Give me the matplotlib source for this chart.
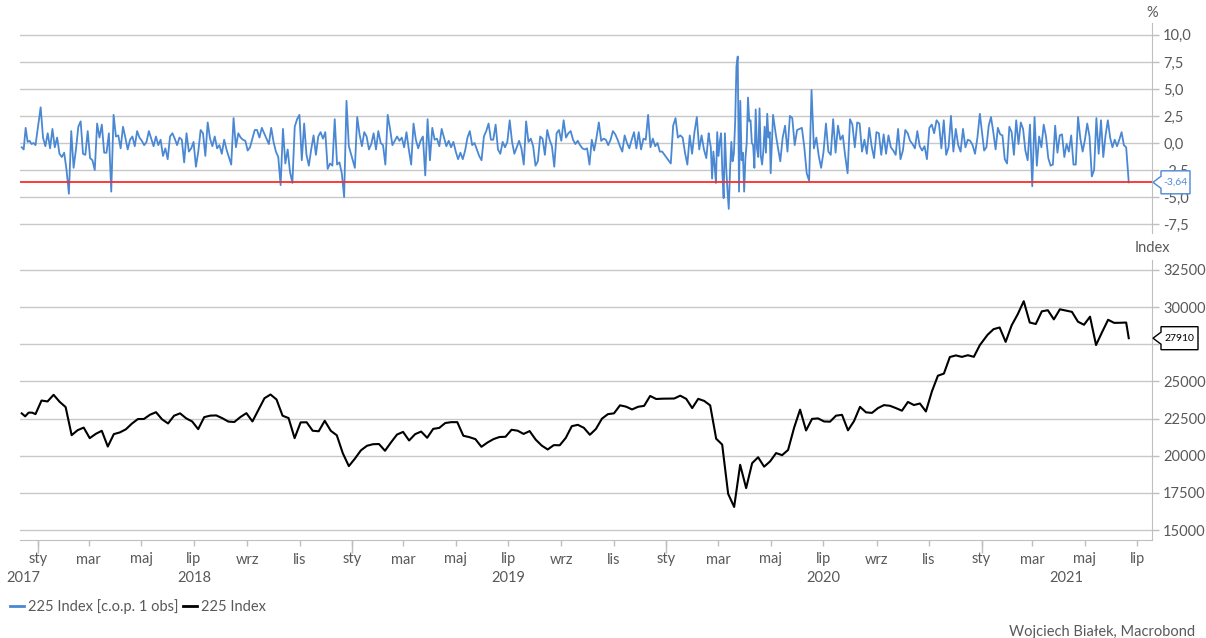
import numpy as np
import pandas as pd
import matplotlib
matplotlib.use('Agg')
import matplotlib.pyplot as plt
import matplotlib.dates as mdates
import matplotlib.ticker as ticker
from matplotlib.patches import Polygon

# ---- dane: zmiana dzienna % (c.o.p. 1 obs), mniej wiecej co druga sesja ----
ret_2017 = [-0.4, -0.6, 1.4, 0.1, 0.2, -0.1, 0.0, -0.2]

ret_2018 = [
    3.3, 0.5, -0.3, 0.9, -0.5, 1.3, -0.4, 0.5, -1.0, -1.3, -0.9,
    -2.5, -4.7, 1.1, -2.3, -0.6, 1.5, 2.0, -1.0, -1.1, 1.1, -1.4,
    -1.6, -2.5, 1.8, 0.5, 1.7, -0.9, -0.9, 0.9, -4.5, 2.6, 0.6,
    0.7, -0.5, 1.5, 0.5, -0.6, 0.3, 0.6, -0.3, 1.1, 0.5, 0.2,
    -0.2, 0.1, 1.1, 0.4, -0.3, 0.6, -0.2, 0.3, -1.2, -0.5, -1.5,
    0.6, 0.9, 0.4, -0.2, 0.5, 0.3, -1.8, 0.9, -0.8, -0.5, 0.1,
    -2.2, -0.8, 1.2, 0.9, -1.2, 1.9, 0.4, -0.3, 0.6, -0.5, -0.2,
    -1.0, 0.3, -0.6, -1.3, -2.0, 2.3, -0.4, 0.9, 0.5, 0.3, 0.2,
    -0.7, -0.4, 0.4, 1.2, 1.2, 0.5, 1.4, 0.9, 0.4, -0.1, 1.4,
    0.1, -0.8, -1.3, -3.9, 1.3, -1.9, -0.6, -2.7, -3.7, 1.5, 2.2,
    2.6, -1.6, 1.8, -1.1, -2.1, -0.6, 0.7, -1.1, 0.6, 1.0, 0.4,
    1.0, -2.4, -1.9, -2.1, 2.2, -2.0, -1.8, -2.8, -5.0, 3.9, -0.3,
]

ret_2019 = [
    -2.3, 2.4, 0.8, -0.3, 1.0, 0.6, -0.6, -0.1, 0.9, -0.6, 1.1,
    0.0, -0.2, -2.0, 2.6, 1.3, -0.2, 0.2, 0.6, 0.2, 0.5, -0.4,
    1.0, -0.6, -2.0, 1.8, 0.3, -0.5, 0.2, 0.6, -3.0, 2.2, -1.6,
    1.4, 0.3, 0.4, -0.3, 1.3, 0.5, -0.3, 0.2, -0.4, 0.1, -0.8,
    -1.5, -0.9, -1.5, -0.7, 0.5, 1.1, -0.2, 0.0, -0.6, -1.2, -1.6,
    0.6, 1.1, 1.8, 0.3, 0.3, 1.7, -0.6, -1.0, 0.1, -0.4, 0.1,
    2.1, 0.1, -1.0, -0.4, 0.2, -0.5, -2.0, 2.0, 0.1, 0.4, -0.3,
    -2.1, -1.7, 0.6, 0.4, -1.1, 1.2, 0.3, -0.3, -2.2, 0.9, 1.2,
    0.2, 2.1, 0.5, 0.9, 1.1, 0.3, -0.1, 0.2, -0.2, -0.5, -0.6,
    -0.5, -2.0, 0.3, -0.7, 0.5, 1.9, 0.2, 0.4, 0.3, -0.2, 0.3,
    1.1, 0.8, 0.3, -0.3, -0.8, 0.7, 0.0, -0.5, 0.3, 1.0, -0.5,
    1.0, -0.6, 0.4, 0.3, 2.6, -0.4, 0.4, -0.3, 0.0, -0.8, -0.8,
]

ret_2020_a = [-1.9, 1.6, 2.3, 0.5, 0.7, 0.5, -0.9, -2.0, 0.7, -1.0,
              1.0, 2.4, -0.6, 0.7, -0.6, -1.4, 0.9]

# luty-kwiecien 2020 - kazda sesja
ret_2020_covid = [0.3, -0.4, -3.3, -0.8, -2.1, -3.7, 1.0, -1.2, 0.1, 0.9,
                  -2.7, -5.1, 0.9, -2.3, -4.4, -6.1, -2.5, 0.1, -1.7, -1.0,
                  2.0, 7.1, 8.0, -4.5, 3.9, -1.6, -0.9, -4.5, -1.4, 0.0,
                  4.2, 2.0, 2.1, 0.0, -0.2, -2.3, 3.1, -0.5, -1.3, 3.2,
                  -1.2, -2.0, -0.7, 1.5, -0.9, 2.7, 0.5, 1.0]

ret_2020_b = [
    -2.8, 2.6, 1.0, -0.4, -1.7, 0.5, 1.6, -0.8, 2.5, 2.3, -0.2,
    1.2, 1.3, 1.4, -0.4, -2.8, -3.5, 4.9, -0.5, 0.5, -1.2, -2.3,
    -0.8, 1.8, -0.8, -1.1, 2.2, -0.9, 1.6, 0.3, 0.7, -1.2, -2.8,
    2.2, 1.7, -0.4, 1.9, 1.8, -0.8, 0.3, -1.0, 1.4, -0.3, -1.4,
    1.0, 0.9, -1.1, 0.8, -1.0, 0.7, -0.4, -0.7, -1.1, 1.3, -1.5,
    -0.7, 1.2, 0.9, 0.2, -0.1, -0.5, 1.1, -0.3, -0.7, -0.3, -1.5,
    1.4, 1.7, 0.9, 2.1, 1.8, -0.5, 2.1, -1.1, -0.4, 2.5, -0.8,
    1.3, -0.2, -0.8, 1.3, -0.4, 0.3, 0.2, -0.2, -1.0, 0.5, 2.7,
]

ret_2021 = [
    -0.7, -0.4, 1.6, 2.4, 1.0, -0.6, 1.4, 0.8, 0.7, -1.5, -1.9,
    1.5, 1.0, -1.1, 2.1, -0.1, 1.9, 1.3, -0.7, -1.6, 1.7, -4.0,
    2.4, -2.1, 0.6, -0.4, 1.7, 0.6, -1.4, -2.1, -2.0, 1.6, -0.9,
    0.7, 0.8, -1.3, -0.1, -0.8, 0.7, -2.0, -2.0, 2.4, 0.4, -0.8,
    0.3, 1.8, 0.6, -3.1, -2.5, 2.3, -1.0, 2.1, -1.3, 0.7, 2.1,
    0.5, -0.4, 0.3, -0.3, 0.3, 1.0, -0.2, -0.4,
]

# ---- dane: 225 Index, mniej wiecej tygodniowo ----
idx_2017 = [22850, 22650, 22900, 22900, 22800]
idx_2018 = [23714, 23653, 24100, 23631,
            23274, 21383, 21720, 21892,
            21182, 21469, 21676, 20617, 21454,
            21568, 21778, 22162, 22468,
            22473, 22758, 22930, 22450,
            22171, 22694, 22851, 22516, 22305,
            21788, 22597, 22698, 22712,
            22525, 22298, 22270, 22601, 22865,
            22307, 23094, 23869, 24120,
            23784, 22694, 22532, 21184,
            22243, 22250, 21680, 21646, 22351,
            21679, 21375, 20166, 19300]
idx_2019 = [19800, 20360, 20666, 20774,
            20788, 20333, 20900, 21426,
            21602, 21025, 21451, 21627, 21206,
            21807, 21871, 22200, 22259,
            22258, 21345, 21250, 21117, 20601,
            20885, 21117, 21259, 21276,
            21746, 21686, 21467, 21658,
            21087, 20685, 20419, 20711, 20704,
            21200, 21988, 22079, 21879,
            21410, 21799, 22493, 22800,
            22851, 23392, 23303, 23113, 23294,
            23354, 24023, 23817, 23838]
idx_2020 = [23850, 24041, 23827, 23205,
            23828, 23688, 23387, 21143,
            20750, 17431, 16553, 19389,
            17820, 19499, 19897, 19262,
            19619, 20179, 20037, 20388, 21878,
            23100, 21700, 22479, 22512,
            22306, 22291, 22696, 22751, 21710,
            22329, 23289, 22920, 22882,
            23205, 23406, 23360, 23204,
            23029, 23619, 23410, 23516, 22977,
            24325, 25385, 25527, 26644,
            26751, 26652, 26763, 26656, 27444]
idx_2021 = [28139, 28519, 28631, 27663,
            28779, 29520, 30400, 28966,
            28864, 29718, 29792, 29176,
            29854, 29768, 29683, 29020, 28813,
            29358, 27450, 28317, 29149,
            28942, 28948, 28964]

last_date = '2021-06-21'
last_pct = -3.64
last_idx = 27910

pct_ticks = [-7.5, -5.0, -2.5, 0.0, 2.5, 5.0, 7.5, 10.0]
idx_ticks = [15000, 17500, 20000, 22500, 25000, 27500, 30000, 32500]
month_names = {1: 'sty', 3: 'mar', 5: 'maj', 7: 'lip', 9: 'wrz', 11: 'lis'}
years = ['2017', '2018', '2019', '2020', '2021']
year_pos = ['2017-12-15', '2018-07-01', '2019-07-01', '2020-07-01', '2021-04-10']
legend_labels = ['225 Index [c.o.p. 1 obs]', '225 Index']


def spread(start, end, vals):
    return list(pd.date_range(start, end, periods=len(vals)))


pct_dates = (spread('2017-12-13', '2017-12-29', ret_2017)
             + spread('2018-01-04', '2018-12-28', ret_2018)
             + spread('2019-01-04', '2019-12-27', ret_2019)
             + spread('2020-01-06', '2020-02-19', ret_2020_a)
             + spread('2020-02-20', '2020-04-30', ret_2020_covid)
             + spread('2020-05-01', '2020-12-30', ret_2020_b)
             + spread('2021-01-04', '2021-06-18', ret_2021)
             + [pd.Timestamp(last_date)])
pct_vals = (ret_2017 + ret_2018 + ret_2019 + ret_2020_a + ret_2020_covid
            + ret_2020_b + ret_2021 + [last_pct])

idx_dates = (spread('2017-12-13', '2017-12-29', idx_2017)
             + spread('2018-01-05', '2018-12-28', idx_2018)
             + spread('2019-01-04', '2019-12-27', idx_2019)
             + spread('2020-01-10', '2020-12-30', idx_2020)
             + spread('2021-01-08', '2021-06-18', idx_2021)
             + [pd.Timestamp(last_date)])
idx_vals = idx_2017 + idx_2018 + idx_2019 + idx_2020 + idx_2021 + [last_idx]

# ---- wykres ----
plt.rcParams['font.family'] = ['Lato', 'DejaVu Sans']
W, H = 1206, 638
BLUE = '#4a88d4'
GRAY = '#595959'
GRID = '#c8c8c8'
SPINE = '#bfbfbf'
FS = 10.5

fig = plt.figure(figsize=(W / 100, H / 100), dpi=100)
ax1 = fig.add_axes([20 / W, 1 - 233 / H, 1132 / W, 210 / H])
ax2 = fig.add_axes([20 / W, 1 - 540 / H, 1132 / W, 280 / H])

xmin, xmax = pd.Timestamp('2017-12-11'), pd.Timestamp('2021-07-18')

# gorny panel
l1, = ax1.plot(pct_dates, pct_vals, color=BLUE, lw=1.3, zorder=3)
ax1.axhline(last_pct, color='#ff2a2a', lw=1.3, zorder=4)
ax1.set_xlim(xmin, xmax)
ax1.set_ylim(-8.33, 11.1)
ax1.set_yticks(pct_ticks)
ax1.set_yticklabels(['{:.1f}'.format(t).replace('.', ',') for t in pct_ticks])
ax1.yaxis.tick_right()
ax1.tick_params(axis='y', colors=SPINE, labelcolor=GRAY, labelsize=FS, length=5, width=1, pad=3)
ax1.tick_params(axis='x', bottom=False, labelbottom=False)
ax1.grid(axis='y', color=GRID, lw=1.0)
ax1.set_axisbelow(True)
for s in ['left', 'top', 'bottom']:
    ax1.spines[s].set_visible(False)
ax1.spines['right'].set_color(SPINE)
ax1.text(1.0, 1.048, '%', transform=ax1.transAxes, ha='center', va='center',
         color=GRAY, fontsize=FS)

# dolny panel
l2, = ax2.plot(idx_dates, idx_vals, color='black', lw=1.5, zorder=3)
ax2.set_xlim(xmin, xmax)
ax2.set_ylim(14327, 33173)
ax2.set_yticks(idx_ticks)
# etykieta 27500 jest zaslonieta przez ramke z ostatnia wartoscia
ax2.set_yticklabels(['' if t == 27500 else str(t) for t in idx_ticks])
ax2.yaxis.tick_right()
ax2.tick_params(axis='y', colors=SPINE, labelcolor=GRAY, labelsize=FS, length=5, width=1, pad=3)
ax2.grid(axis='y', color=GRID, lw=1.0)
ax2.set_axisbelow(True)
for s in ['left', 'top']:
    ax2.spines[s].set_visible(False)
ax2.spines['right'].set_color(SPINE)
ax2.spines['bottom'].set_color(SPINE)
ax2.text(1.0, 1.043, 'Index', transform=ax2.transAxes, ha='center', va='center',
         color=GRAY, fontsize=FS)

ax2.xaxis.set_major_locator(mdates.MonthLocator(bymonth=list(month_names)))
ax2.xaxis.set_major_formatter(ticker.FuncFormatter(
    lambda x, pos: month_names.get(mdates.num2date(x).month, '')))
ax2.xaxis.set_minor_locator(mdates.YearLocator())
ax2.xaxis.remove_overlapping_locs = False
ax2.tick_params(axis='x', which='major', colors=SPINE, labelcolor=GRAY, labelsize=FS,
                length=4, width=1, pad=5)
ax2.tick_params(axis='x', which='minor', colors=SPINE, length=9, width=1)
for y, p in zip(years, year_pos):
    ax2.text(pd.Timestamp(p), -0.136, y, transform=ax2.get_xaxis_transform(),
             ha='center', va='center', color=GRAY, fontsize=FS)


def callout(ax, value, text, edge, width):
    xd, yd = ax.get_yaxis_transform().transform((1.0, value))
    fx, fy = xd / W, yd / H
    pts = [(1, 0), (9, 6), (9, 11.5), (9 + width, 11.5), (9 + width, -11.5),
           (9, -11.5), (9, -6)]
    fig.add_artist(Polygon([(fx + dx / W, fy + dy / H) for dx, dy in pts], closed=True,
                           transform=fig.transFigure, facecolor='white',
                           edgecolor=edge, lw=1.0, zorder=5))
    fig.text(fx + (9 + width / 2) / W, fy, text, ha='center', va='center',
             color=edge, fontsize=7.5, zorder=6)


callout(ax1, last_pct, '{:.2f}'.format(last_pct).replace('.', ','), BLUE, 29)
callout(ax2, last_idx, str(last_idx), 'black', 37)

fig.legend([l1, l2], legend_labels, loc='center left', bbox_to_anchor=(0.008, 1 - 607 / H),
           ncol=2, frameon=False, handlelength=1.0, handletextpad=0.25,
           columnspacing=0.3, borderpad=0, borderaxespad=0, fontsize=FS,
           labelcolor=GRAY)
for h in fig.legends[0].legend_handles:
    h.set_linewidth(2)

# podpis czesciowo uciety dolna krawedzia, jak w oryginale
fig.text(0.991, 1 - 625 / H, 'Wojciech Białek, Macrobond', ha='right', va='top',
         color=GRAY, fontsize=FS)

fig.savefig('out.png', dpi=100)
